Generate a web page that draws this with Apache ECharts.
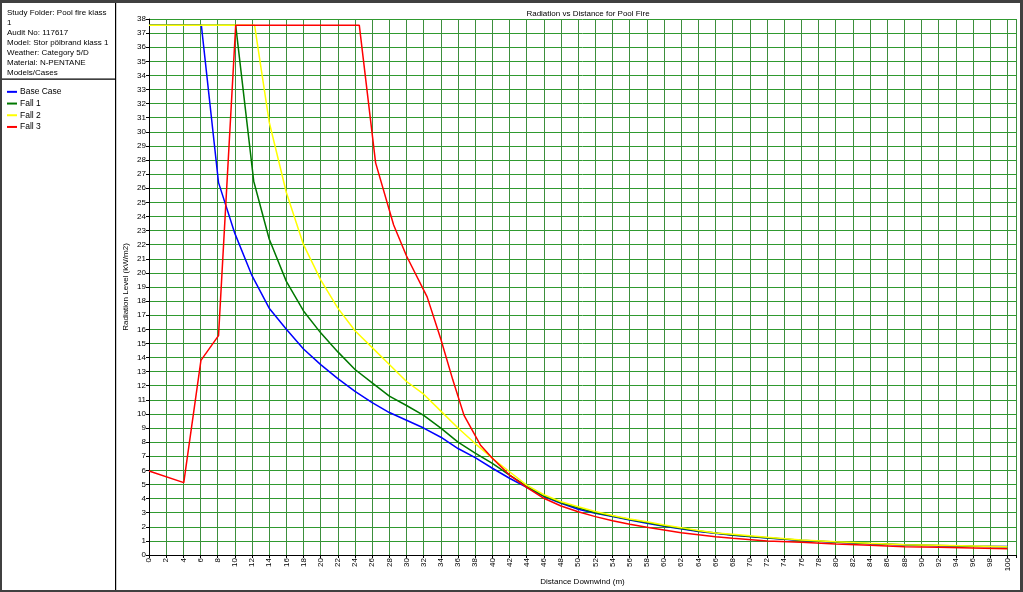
<!DOCTYPE html>
<html>
<head>
<meta charset="utf-8">
<script src="https://cdn.jsdelivr.net/npm/echarts@6/dist/echarts.min.js"></script>
<style>
html,body{margin:0;padding:0;background:#fff;}
#chart{width:1023px;height:592px;}
</style>
</head>
<body>
<div id="chart"></div>
<script>
const seriesNames = ['Base Case', 'Fall 1', 'Fall 2', 'Fall 3'];
const seriesColors = ['#0000ff', '#007800', '#ffff00', '#ff0000'];

const baseCase = [[0,37.55],[6.1,37.55],[8.1,26.4],[10,22.8],[12,19.8],[14,17.5],[16,16.0],[18,14.6],[20,13.5],[22,12.5],[24,11.6],[26,10.8],[28,10.1],[30,9.55],[32,9.0],[34,8.35],[36,7.55],[38,6.9],[40,6.15],[42,5.44],[44,4.8],[46,4.15],[48,3.67],[50,3.24],[52,2.96],[54,2.72],[56,2.48],[58,2.25],[60,2.03],[64,1.66],[68,1.4],[72,1.2],[76,1.02],[80,0.9],[84,0.8],[88,0.71],[92,0.66],[96,0.62],[100,0.6]];
const fall1 = [[0,37.55],[10.1,37.55],[12.2,26.5],[14,22.4],[16,19.4],[18,17.3],[20,15.75],[22,14.4],[24,13.15],[26,12.2],[28,11.27],[30,10.6],[32,9.9],[34,9.0],[36,8.0],[38,7.22],[40,6.5],[42,5.67],[44,4.88],[46,4.18],[48,3.71],[50,3.35],[52,3.0],[54,2.77],[56,2.52],[58,2.3],[60,2.08],[64,1.7],[68,1.42],[72,1.22],[76,1.04],[80,0.92],[84,0.81],[88,0.72],[92,0.67],[96,0.62],[100,0.58]];
const fall2 = [[0,37.55],[12.3,37.55],[14,30.7],[16,25.7],[18,22.0],[20,19.5],[22,17.5],[24,15.9],[26,14.7],[28,13.5],[30,12.3],[32,11.4],[34,10.2],[36,9.0],[38,7.9],[40,6.86],[42,5.9],[44,4.95],[46,4.27],[48,3.78],[50,3.42],[52,3.08],[54,2.8],[56,2.55],[58,2.36],[60,2.13],[62,1.94],[64,1.73],[66,1.56],[68,1.47],[72,1.25],[76,1.06],[80,0.94],[84,0.83],[88,0.73],[92,0.69],[96,0.64],[100,0.59]];
const fall3 = [[0,5.96],[4.05,5.13],[6.05,13.8],[8.1,15.55],[10.1,37.55],[24.5,37.55],[26.4,27.8],[28.5,23.4],[30,21.2],[32.4,18.3],[34,15.3],[35.4,12.4],[36.7,9.9],[38.6,7.8],[40,6.86],[42,5.67],[44,4.8],[46,4.02],[48,3.47],[50,3.07],[52,2.72],[54,2.43],[56,2.18],[58,1.96],[60,1.77],[62,1.58],[64,1.44],[66,1.3],[68,1.18],[72,0.99],[76,0.9],[80,0.78],[84,0.69],[88,0.59],[92,0.55],[96,0.5],[100,0.45]];
const seriesData = [baseCase, fall1, fall2, fall3];

const infoLines = ['Study Folder: Pool fire klass', '1', 'Audit No: 117617', 'Model: Stor pölbrand klass 1', 'Weather: Category 5/D', 'Material: N-PENTANE', 'Models/Cases'];
const chartTitle = 'Radiation vs Distance for Pool Fire';
const xName = 'Distance Downwind (m)';
const yName = 'Radiation Level (kW/m2)';

const FONT = "'Liberation Sans', Arial, sans-serif";
const FS = 8;

const chart = echarts.init(document.getElementById('chart'), null, {renderer: 'canvas'});

const graphics = [
  {type: 'rect', shape: {x: 0, y: 0, width: 1023, height: 3}, style: {fill: '#404040'}, silent: true},
  {type: 'rect', shape: {x: 0, y: 0, width: 2, height: 592}, style: {fill: '#404040'}, silent: true},
  {type: 'rect', shape: {x: 1020, y: 0, width: 3, height: 592}, style: {fill: '#404040'}, silent: true},
  {type: 'rect', shape: {x: 0, y: 590, width: 1023, height: 2}, style: {fill: '#404040'}, silent: true},
  {type: 'rect', shape: {x: 115, y: 3, width: 1.2, height: 587}, style: {fill: '#000'}, silent: true},
  {type: 'rect', shape: {x: 2, y: 78.5, width: 114, height: 1.2}, style: {fill: '#000'}, silent: true},
  {type: 'text', left: 7, top: 8, silent: true,
    style: {text: infoLines.join('\n'), font: '8px ' + FONT, lineHeight: 9.9, fill: '#000'}}
];

chart.setOption({
  animation: false,
  backgroundColor: '#fff',
  title: {
    text: chartTitle, left: 583, top: 5, textAlign: 'center',
    textStyle: {fontFamily: FONT, fontSize: FS, fontWeight: 'normal', color: '#000'}
  },
  legend: {
    orient: 'vertical', left: 7, top: 86, padding: 0,
    icon: 'rect', itemWidth: 10, itemHeight: 2, itemGap: 0,
    textStyle: {fontFamily: FONT, fontSize: 8.5, color: '#000', lineHeight: 11.7, padding: [0,0,0,-2]},
    data: seriesNames
  },
  graphic: graphics,
  grid: {left: 149, top: 19, width: 867, height: 536, containLabel: false},
  xAxis: {
    type: 'value', min: 0, max: 101, interval: 2,
    name: xName, nameLocation: 'middle', nameGap: 23, nameMoveOverlap: false,
    nameTextStyle: {fontFamily: FONT, fontSize: FS, color: '#000'},
    axisLine: {show: true, onZero: false, lineStyle: {color: '#000', width: 1}},
    axisTick: {show: true, length: 3, lineStyle: {color: '#000'}},
    axisLabel: {rotate: 90, margin: 3, fontFamily: FONT, fontSize: FS, color: '#000',
      formatter: v => (v % 2 === 0 ? String(v) : '')},
    splitLine: {show: true, lineStyle: {color: '#3d8f3d', width: 1}}
  },
  yAxis: {
    type: 'value', min: 0, max: 38, interval: 1,
    name: yName, nameLocation: 'middle', nameGap: 19, nameMoveOverlap: false,
    nameTextStyle: {fontFamily: FONT, fontSize: FS, color: '#000'},
    axisLine: {show: true, onZero: false, lineStyle: {color: '#000', width: 1}},
    axisTick: {show: true, length: 3, lineStyle: {color: '#000'}},
    axisLabel: {margin: 3, fontFamily: FONT, fontSize: FS, color: '#000'},
    splitLine: {show: true, lineStyle: {color: '#2f9a2f', width: 1}}
  },
  series: seriesNames.map((n, i) => ({
    name: n, type: 'line', data: seriesData[i], showSymbol: false, symbol: 'none',
    color: seriesColors[i],
    lineStyle: {width: 1.5, color: seriesColors[i]},
    z: 2 + i
  }))
});
</script>
</body>
</html>
